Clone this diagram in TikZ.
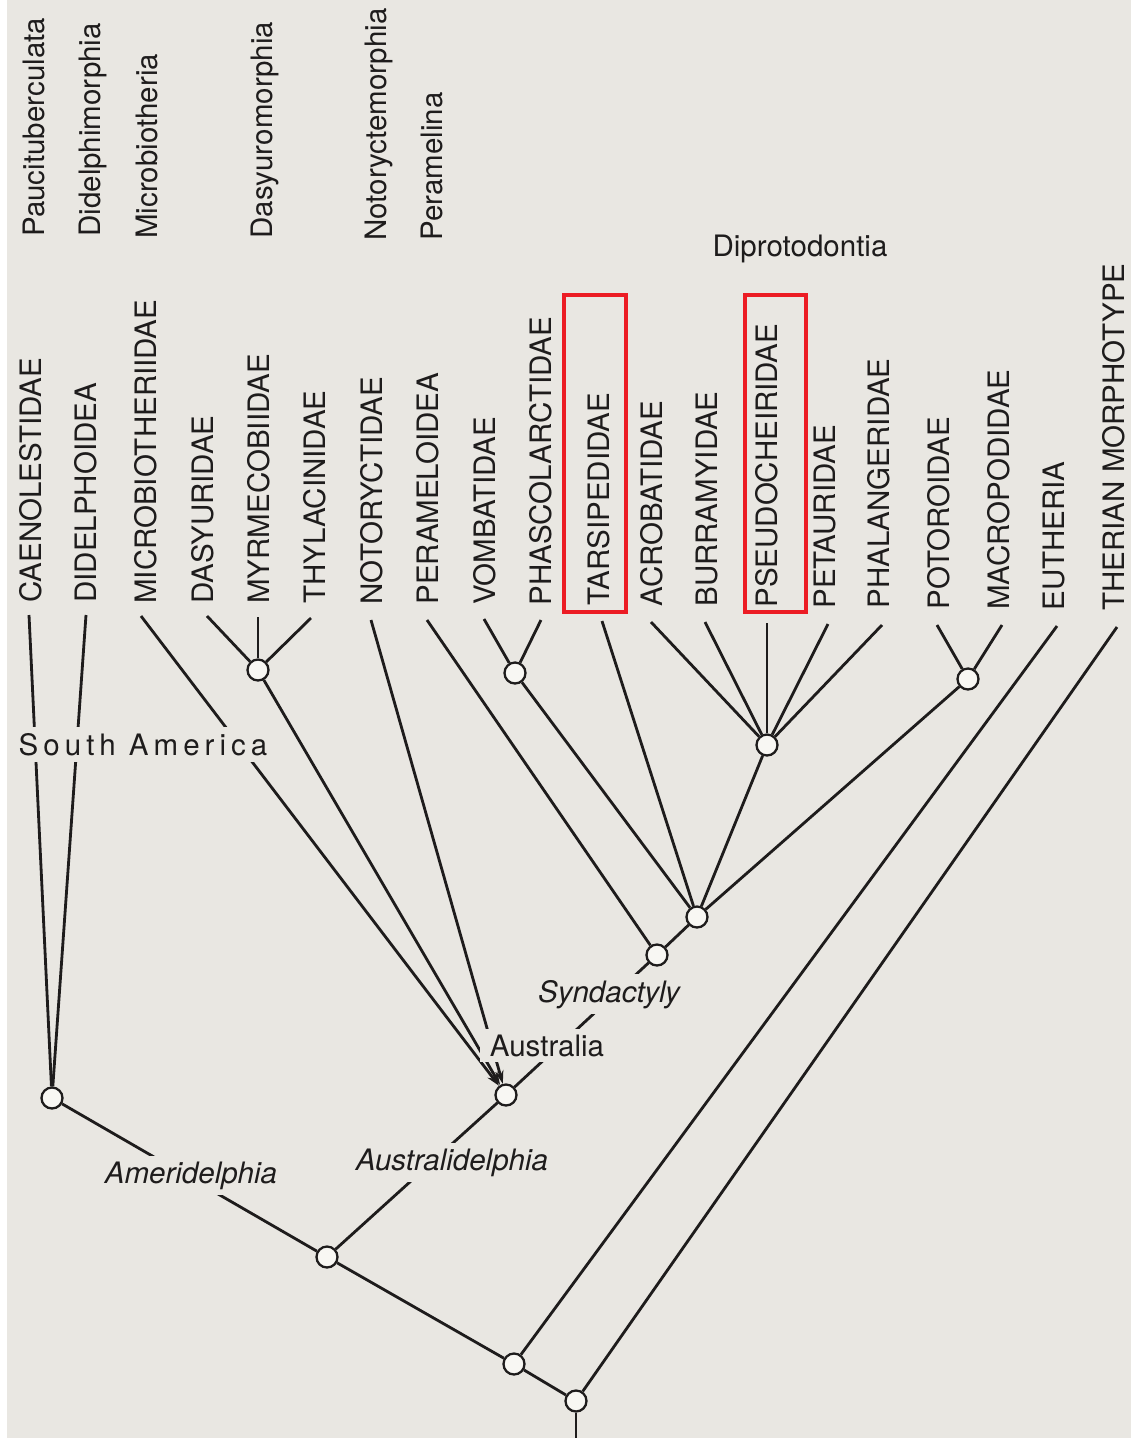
\documentclass[tikz,border=0pt]{standalone}
\usepackage{fontspec}
\setmainfont{TeX Gyre Heros}
\newfontfamily\spacedfont[LetterSpace=17]{TeX Gyre Heros}
\usetikzlibrary{arrows.meta}
\pgfdeclarelayer{bgl}
\pgfdeclarelayer{lines}
\pgfsetlayers{bgl,lines,main}
\definecolor{paper}{RGB}{233,231,226}
\definecolor{ink}{RGB}{30,28,28}
\definecolor{nodefill}{RGB}{248,247,243}
\definecolor{boxred}{RGB}{236,28,36}
\begin{document}
\begin{tikzpicture}[x=0.02cm, y=-0.02cm,
  lab/.style={font=\fontsize{16.8}{20}\selectfont, text=ink, inner sep=0pt},
  leaf/.style={lab, rotate=90, anchor=base west},
  clade/.style={lab, anchor=base, fill=paper, inner xsep=3.4pt, inner ysep=3.4pt},
  junc/.style={circle, draw=ink, line width=1.3pt, fill=nodefill, minimum size=0.42cm, inner sep=0pt},
  br/.style={draw=ink, line width=1.6pt},
  arr/.style={-{Stealth[length=7.5pt,width=4.8pt]}},
  redbox/.style={draw=boxred, line width=2pt}
]
\useasboundingbox (0,0) rectangle (1131,1438);
\begin{pgfonlayer}{bgl}
\fill[paper] (0,0) rectangle (1131,1438);
\fill[white] (0,0) rectangle (7,1438);
\end{pgfonlayer}

% order names
\node[leaf] (oPau) at (45,237) {Paucituberculata};
\node[leaf] (oDid) at (100,237) {Didelphimorphia};
\node[leaf] (oMic) at (157,239) {Microbiotheria};
\node[leaf] (oDas) at (272,239) {Dasyuromorphia};
\node[leaf] (oNot) at (386,241) {Notoryctemorphia};
\node[leaf] (oPer) at (442,241) {Peramelina};
\node[lab, anchor=base] (oDip) at (800,256) {Diprotodontia};

% family names
\node[leaf] (caen) at (41,603) {CAENOLESTIDAE};
\node[leaf] (dide) at (96,603) {DIDELPHOIDEA};
\node[leaf] (micr) at (156,604) {MICROBIOTHERIIDAE};
\node[leaf] (dasy) at (213,604) {DASYURIDAE};
\node[leaf] (myrm) at (269,604) {MYRMECOBIIDAE};
\node[leaf] (thyl) at (325,604) {THYLACINIDAE};
\node[leaf] (noto) at (382,605) {NOTORYCTIDAE};
\node[leaf] (pera) at (438,605) {PERAMELOIDEA};
\node[leaf] (vomb) at (495,605) {VOMBATIDAE};
\node[leaf] (phas) at (551,606) {PHASCOLARCTIDAE};
\node[leaf] (tars) at (609,606) {TARSIPEDIDAE};
\node[leaf] (acro) at (662,607) {ACROBATIDAE};
\node[leaf] (burr) at (717,607) {BURRAMYIDAE};
\node[leaf] (pseu) at (777,608) {PSEUDOCHEIRIDAE};
\node[leaf] (peta) at (835,609) {PETAURIDAE};
\node[leaf] (phal) at (889,609) {PHALANGERIDAE};
\node[leaf] (poto) at (949,610) {POTOROIDAE};
\node[leaf] (macr) at (1009,610) {MACROPODIDAE};
\node[leaf] (euth) at (1064,611) {EUTHERIA};
\node[leaf] (ther) at (1124,611) {THERIAN MORPHOTYPE};

% highlight boxes
\draw[redbox] (564,295) rectangle (626,612);
\draw[redbox] (745,295) rectangle (806,612);

% clade labels (filled, so they interrupt the branches)
\node[clade] (lSAm) at (143,755) {\spacedfont South America};
\node[clade] (lSyn) at (609,1002) {\itshape Syndactyly};
\node[clade, inner xsep=5.5pt] (lAus) at (547,1056) {Australia};
\node[clade] (lAud) at (452,1170) {\itshape Australidelphia};
\node[clade] (lAme) at (191,1183) {\itshape Ameridelphia};

% junctions
\node[junc] (A)  at (52,1098) {};
\node[junc] (MY) at (258,670) {};
\node[junc] (PV) at (515,673) {};
\node[junc] (PS) at (767,745) {};
\node[junc] (PM) at (968,679) {};
\node[junc] (D)  at (697,917) {};
\node[junc] (SY) at (657,955) {};
\node[junc] (AU) at (506,1095) {};
\node[junc] (M)  at (327,1257) {};
\node[junc] (T)  at (514,1364) {};
\node[junc] (R)  at (576,1401) {};

% branch tips
\coordinate (tcaen) at (29,615);
\coordinate (tdide) at (86,615);
\coordinate (tmicr) at (141,616);
\coordinate (tdasy) at (207,616);
\coordinate (tmyrm) at (258,617);
\coordinate (tthyl) at (311,618);
\coordinate (tnoto) at (371,620);
\coordinate (tpera) at (427,620);
\coordinate (tvomb) at (484,619);
\coordinate (tphas) at (541,620);
\coordinate (ttars) at (602,621);
\coordinate (tacro) at (651,622);
\coordinate (tburr) at (705,622);
\coordinate (tpseu) at (767,623);
\coordinate (tpeta) at (828,624);
\coordinate (tphal) at (882,625);
\coordinate (tpoto) at (937,625);
\coordinate (tmacr) at (1002,625);
\coordinate (teuth) at (1057,626);
\coordinate (tther) at (1117,627);
\coordinate (bot) at (576,1440);

\begin{pgfonlayer}{lines}
\draw[br] (tcaen) -- (A);
\draw[br] (tdide) -- (A);
\draw[br,arr] (tmicr) -- (AU);
\draw[br] (tdasy) -- (MY);
\draw[br] (tmyrm) -- (MY);
\draw[br] (tthyl) -- (MY);
\draw[br,arr] (MY) -- (AU);
\draw[br,arr] (tnoto) -- (AU);
\draw[br] (tpera) -- (SY);
\draw[br] (tvomb) -- (PV);
\draw[br] (tphas) -- (PV);
\draw[br] (PV) -- (D);
\draw[br] (ttars) -- (D);
\draw[br] (tacro) -- (PS);
\draw[br] (tburr) -- (PS);
\draw[br] (tpseu) -- (PS);
\draw[br] (tpeta) -- (PS);
\draw[br] (tphal) -- (PS);
\draw[br] (PS) -- (D);
\draw[br] (tpoto) -- (PM);
\draw[br] (tmacr) -- (PM);
\draw[br] (PM) -- (D);
\draw[br] (D) -- (SY);
\draw[br] (SY) -- (AU);
\draw[br] (AU) -- (M);
\draw[br] (A) -- (M);
\draw[br] (M) -- (T);
\draw[br] (teuth) -- (T);
\draw[br] (T) -- (R);
\draw[br] (tther) -- (R);
\draw[br] (R) -- (bot);
\end{pgfonlayer}
\end{tikzpicture}
\end{document}
